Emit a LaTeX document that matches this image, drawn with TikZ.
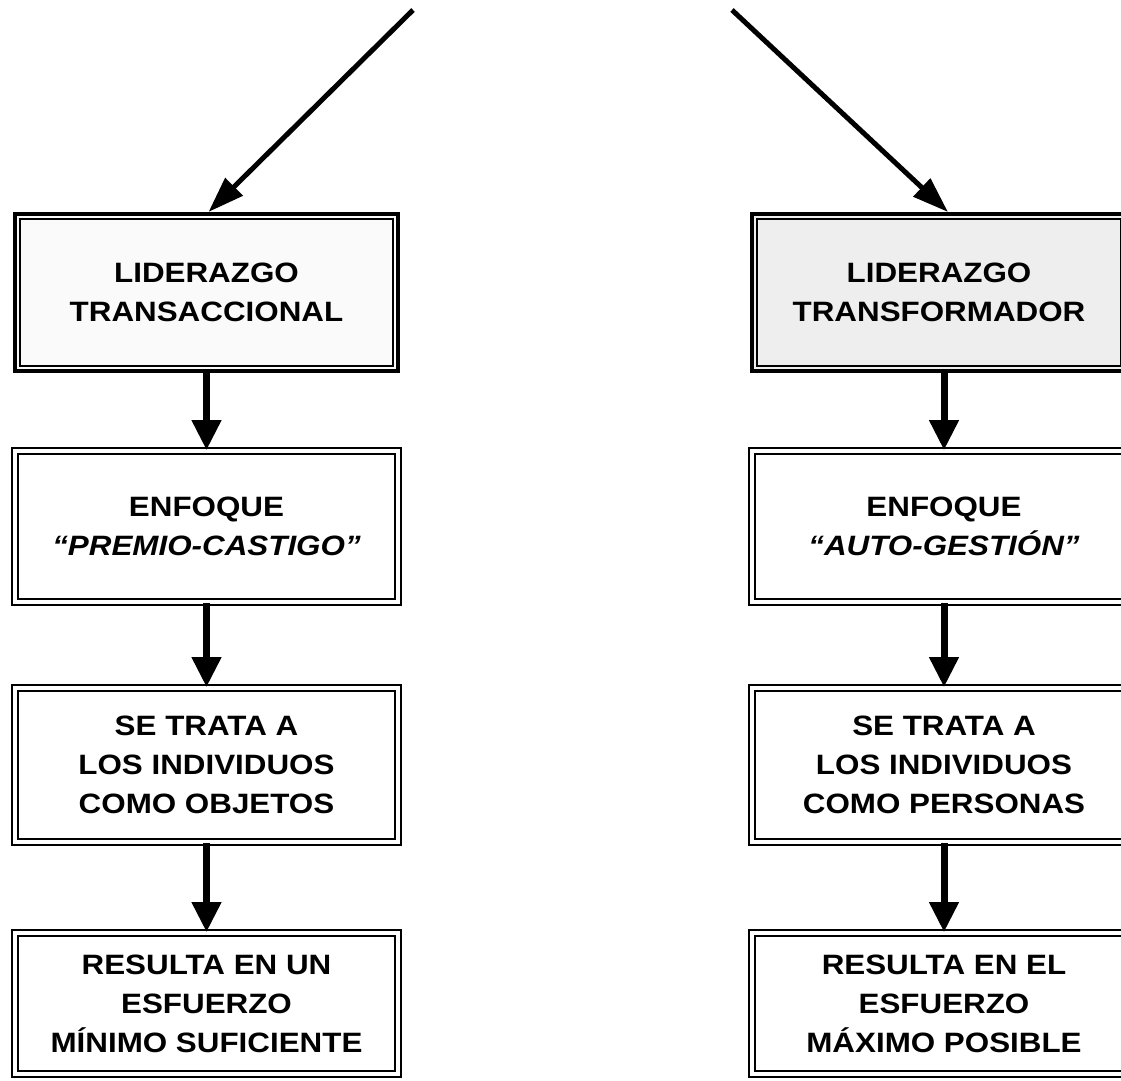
\documentclass[tikz,border=0pt]{standalone}
\usepackage{fontspec}
\newfontfamily\boxfont{Liberation Sans}[FakeStretch=1.12]
\usetikzlibrary{arrows.meta}

\tikzset{
  boxtext/.style={align=center, inner sep=0pt, font=\boxfont\bfseries\fontsize{28}{39}\selectfont},
  headbox/.style={boxtext, draw, line width=4pt},
  stepbox/.style={boxtext, draw, line width=1.6pt, double, double distance=4.5pt},
  flow/.style={line width=7pt, -{Triangle[width=28pt,length=30pt]}},
  feed/.style={line width=5pt, -{Triangle[width=24pt,length=36pt]}}
}

\begin{document}
\begin{tikzpicture}[x=1pt, y=-1pt]
  \useasboundingbox (0,0) rectangle (1121,1080);
  \clip (0,0) rectangle (1121,1080);
  \fill[white] (0,0) rectangle (1121,1080);

  % Left column: transaccional
  \node[headbox, fill=gray!4, minimum width=383pt, minimum height=157pt] (tl1) at (206.5,292.5) {LIDERAZGO\\TRANSACCIONAL};
  \node[stepbox, minimum width=383pt, minimum height=151pt] (tl2) at (206.5,526.5) {ENFOQUE\\\textit{“PREMIO-CASTIGO”}};
  \node[stepbox, minimum width=383pt, minimum height=154pt] (tl3) at (206.5,765) {SE TRATA A\\LOS INDIVIDUOS\\COMO OBJETOS};
  \node[stepbox, minimum width=383pt, minimum height=141pt] (tl4) at (206.5,1003.5) {RESULTA EN UN\\ESFUERZO\\MÍNIMO SUFICIENTE};

  % Right column: transformador (runs past the right margin)
  \node[headbox, fill=gray!13, minimum width=374pt, minimum height=157pt] (tr1) at (939,292.5) {LIDERAZGO\\TRANSFORMADOR};
  \node[stepbox, minimum width=384pt, minimum height=151pt] (tr2) at (944,526.5) {ENFOQUE\\\textit{“AUTO-GESTIÓN”}};
  \node[stepbox, minimum width=384pt, minimum height=154pt] (tr3) at (944,765) {SE TRATA A\\LOS INDIVIDUOS\\COMO PERSONAS};
  \node[stepbox, minimum width=384pt, minimum height=141pt] (tr4) at (944,1003.5) {RESULTA EN EL\\ESFUERZO\\MÁXIMO POSIBLE};

  % inner frame of the two heads
  \foreach \n in {tl1, tr1}
    \draw[line width=1.5pt] ([shift={(7pt,-7pt)}]\n.north west) rectangle ([shift={(-7pt,7pt)}]\n.south east);

  % arrows down each column
  \foreach \c in {tl, tr} {
    \draw[flow] (\c1.south -| \c2.north) -- (\c2.north);
    \draw[flow] (\c2.south) -- (\c3.north);
    \draw[flow] (\c3.south) -- (\c4.north);
  }

  % incoming arrows from above
  \coordinate (srcl) at (413,10);
  \coordinate (srcr) at (732,10);
  \draw[feed] (srcl) -- ([xshift=2pt]tl1.north);
  \draw[feed] (srcr) -- ([xshift=9pt]tr1.north);
\end{tikzpicture}
\end{document}
